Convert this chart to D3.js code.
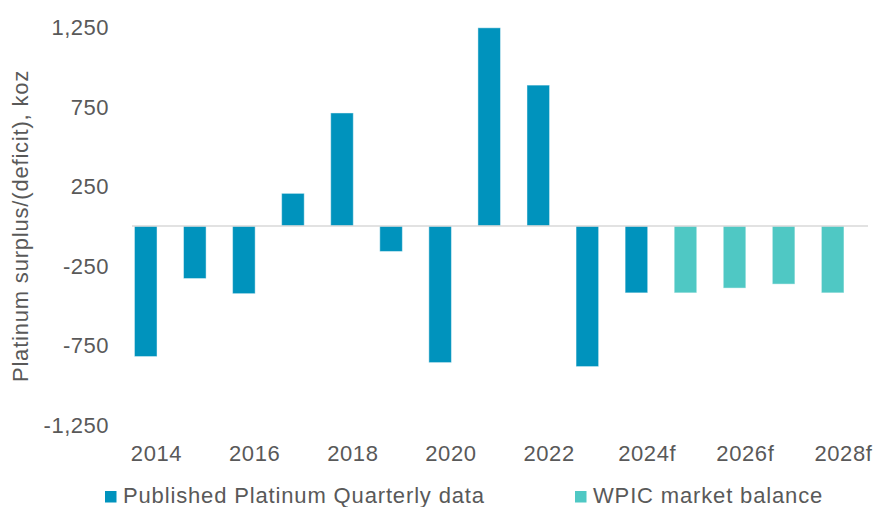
<!DOCTYPE html>
<html>
<head>
<meta charset="utf-8">
<script src="https://cdn.jsdelivr.net/npm/d3@7"></script>
<style>
  body { margin: 0; background: #fff; }
  svg text { font-family: "Liberation Sans", Arial, sans-serif; fill: #595959; }
</style>
</head>
<body>
<svg id="chart"></svg>
<script>
// data
const categories = ["2014", "2015", "2016", "2017", "2018", "2019", "2020", "2021", "2022", "2023",
    "2024f", "2025f", "2026f", "2027f", "2028f"];
const balance = [-820, -330, -425, 205, 710, -160, -858, 1245, 885, -883, -420, -420, -390, -365, -420];
const seriesOf = ["pub", "pub", "pub", "pub", "pub", "pub", "pub", "pub", "pub", "pub",
    "pub", "wpic", "wpic", "wpic", "wpic"];
const tickLabels = ["2014", "2016", "2018", "2020", "2022", "2024f", "2026f", "2028f"];
const yTicks = [-1250, -750, -250, 250, 750, 1250];
const legendItems = [
    { key: "pub", label: "Published Platinum Quarterly data" },
    { key: "wpic", label: "WPIC market balance" }
];

const width = 879;
const height = 507;
const colors = { pub: "#0093bd", wpic: "#4fc8c4" };

const svg = d3.select("#chart").attr("width", width).attr("height", height);

const x = d3.scaleBand().domain(categories).range([132, 868]).paddingInner(0).paddingOuter(0);
const y = d3.scaleLinear().domain([-1250, 1250]).range([425, 27]);

// bars
svg.append("g").attr("class", "bars")
    .selectAll("rect")
    .data(categories)
    .enter()
    .append("rect")
    .attr("x", function (d) { return x(d) + x.bandwidth() * 0.05; })
    .attr("width", x.bandwidth() * 0.46)
    .attr("y", function (d, i) { return y(Math.max(0, balance[i])); })
    .attr("height", function (d, i) { return Math.abs(y(balance[i]) - y(0)); })
    .attr("fill", function (d, i) { return colors[seriesOf[i]]; })
    .attr("stroke", "rgba(255,255,255,0.45)")
    .attr("stroke-width", 1);

// zero line
svg.append("line")
    .attr("x1", x.range()[0])
    .attr("x2", x.range()[1])
    .attr("y1", y(0))
    .attr("y2", y(0))
    .attr("stroke", "#d9d9d9")
    .attr("stroke-width", 1.5);

// y axis labels (plain hyphen for negatives, like the original)
const fmt = d3.formatLocale({ decimal: ".", thousands: ",", grouping: [3], currency: ["", ""], minus: "-" }).format(",");
svg.append("g").attr("class", "yticks")
    .selectAll("text")
    .data(yTicks)
    .enter()
    .append("text")
    .attr("x", 109)
    .attr("y", function (d) { return y(d); })
    .attr("dy", "0.36em")
    .attr("text-anchor", "end")
    .attr("font-size", "22px")
    .attr("letter-spacing", "0.5px")
    .text(function (d) { return fmt(d); });

// x axis labels
svg.append("g").attr("class", "xticks")
    .selectAll("text")
    .data(tickLabels)
    .enter()
    .append("text")
    .attr("x", function (d) { return x(d) + x.bandwidth() / 2; })
    .attr("y", 461)
    .attr("text-anchor", "middle")
    .attr("font-size", "22px")
    .attr("letter-spacing", "0.6px")
    .text(function (d) { return d; });

// y axis title
svg.append("text")
    .attr("transform", "translate(28," + y(0) + ") rotate(-90)")
    .attr("text-anchor", "middle")
    .attr("font-size", "22px")
    .attr("letter-spacing", "0.8px")
    .text("Platinum surplus/(deficit), koz");

// legend
const legendX = [105, 575];
const legend = svg.append("g").attr("class", "legend")
    .selectAll("g")
    .data(legendItems)
    .enter()
    .append("g")
    .attr("transform", function (d, i) { return "translate(" + legendX[i] + ",491)"; });

legend.append("rect")
    .attr("width", 11.5)
    .attr("height", 11.5)
    .attr("fill", function (d) { return colors[d.key]; });

legend.append("text")
    .attr("x", 18)
    .attr("y", 11.5)
    .attr("font-size", "22px")
    .attr("letter-spacing", "0.85px")
    .text(function (d) { return d.label; });
</script>
</body>
</html>
